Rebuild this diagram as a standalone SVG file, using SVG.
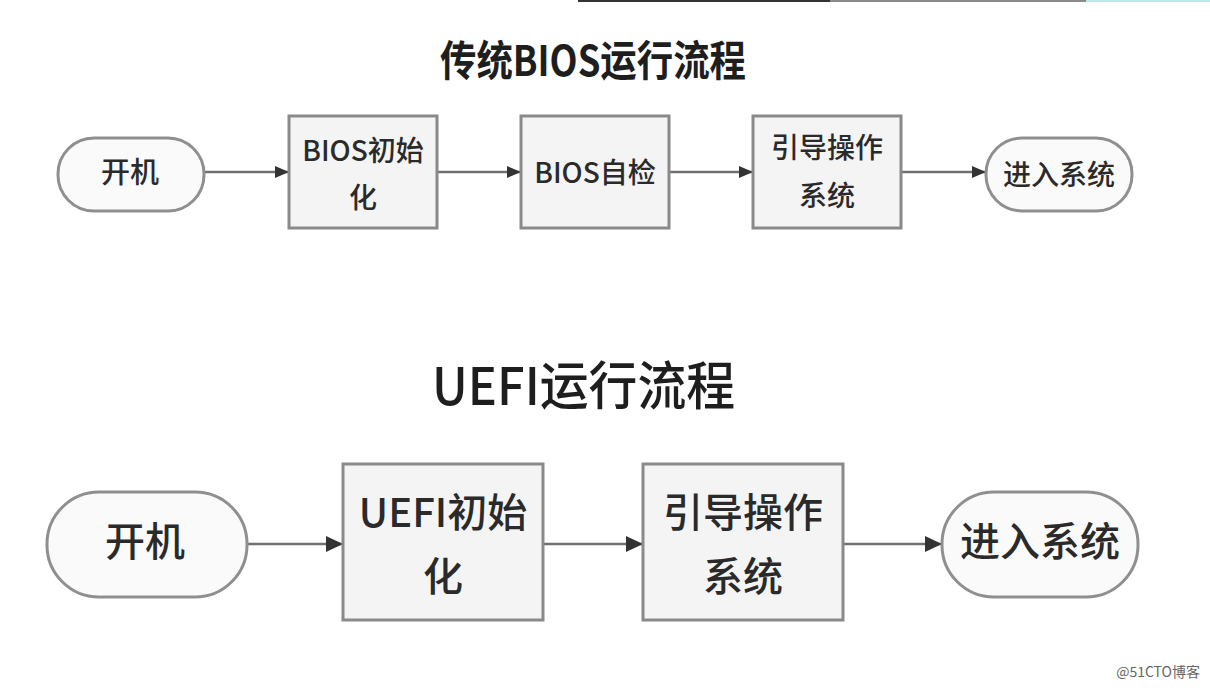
<svg xmlns="http://www.w3.org/2000/svg" width="1210" height="691" viewBox="0 0 1210 691">
<defs>
<style>
.t{font-family:"Noto Sans CJK SC","Noto Sans",sans-serif;fill:#2a2a2a;text-anchor:middle;font-weight:500}
.title{font-family:"Noto Sans CJK SC","Noto Sans",sans-serif;fill:#1e1e1e}
.box{fill:#f4f4f4;stroke:#8a8a8a;stroke-width:3}
.pill{fill:#fafafa;stroke:#8f8f8f;stroke-width:3}
.ln{stroke:#707070;stroke-width:2.5;fill:none}
</style>
<marker id="ah1" markerUnits="userSpaceOnUse" markerWidth="14" markerHeight="12" refX="14" refY="6" orient="auto">
<path d="M0,0 L14,6 L0,12 Z" fill="#333"/>
</marker>
<marker id="ah2" markerUnits="userSpaceOnUse" markerWidth="17" markerHeight="16" refX="17" refY="8" orient="auto">
<path d="M0,0 L17,8 L0,16 Z" fill="#333"/>
</marker>
</defs>
<rect width="1210" height="691" fill="#ffffff"/>
<rect x="578" y="0" width="252" height="2" fill="#333"/>
<rect x="830" y="0" width="256" height="2" fill="#8a8a8a"/>
<rect x="1086" y="0" width="124" height="2" fill="#bfe6ec"/>

<text class="title" x="440" y="76" font-size="42" font-weight="700" textLength="306" lengthAdjust="spacingAndGlyphs">传统BIOS运行流程</text>
<text class="title" x="432" y="405" font-size="52" font-weight="500" textLength="303" lengthAdjust="spacingAndGlyphs">UEFI运行流程</text>

<g id="connectors">
<line class="ln" x1="205" y1="172" x2="289" y2="172" marker-end="url(#ah1)"/>
<line class="ln" x1="437" y1="172" x2="521" y2="172" marker-end="url(#ah1)"/>
<line class="ln" x1="669" y1="172" x2="753" y2="172" marker-end="url(#ah1)"/>
<line class="ln" x1="901" y1="172" x2="986" y2="172" marker-end="url(#ah1)"/>
<line class="ln" x1="247" y1="544" x2="343" y2="544" marker-end="url(#ah2)"/>
<line class="ln" x1="543" y1="544" x2="643" y2="544" marker-end="url(#ah2)"/>
<line class="ln" x1="843" y1="544" x2="942" y2="544" marker-end="url(#ah2)"/>
</g>

<g id="bios-start">
<rect class="pill" x="58" y="138" width="146" height="73" rx="36" ry="36"/>
<text class="t" x="130" y="183" font-size="29">开机</text>
</g>
<g id="bios-init">
<rect class="box" x="289" y="116" width="148" height="112"/>
<text class="t" x="363" y="161" font-size="28">BIOS初始</text>
<text class="t" x="363" y="208" font-size="28">化</text>
</g>
<g id="bios-post">
<rect class="box" x="521" y="116" width="148" height="112"/>
<text class="t" x="595" y="183" font-size="28">BIOS自检</text>
</g>
<g id="bios-boot">
<rect class="box" x="753" y="116" width="148" height="112"/>
<text class="t" x="827" y="158" font-size="28">引导操作</text>
<text class="t" x="827" y="206" font-size="28">系统</text>
</g>
<g id="bios-enter">
<rect class="pill" x="986" y="138" width="146" height="73" rx="36" ry="36"/>
<text class="t" x="1059" y="185" font-size="28">进入系统</text>
</g>

<g id="uefi-start">
<rect class="pill" x="47" y="492" width="200" height="105" rx="52" ry="52"/>
<text class="t" x="145" y="556" font-size="40">开机</text>
</g>
<g id="uefi-init">
<rect class="box" x="343" y="464" width="200" height="156"/>
<text class="t" x="443" y="527" font-size="40">UEFI初始</text>
<text class="t" x="443" y="591" font-size="40">化</text>
</g>
<g id="uefi-boot">
<rect class="box" x="643" y="464" width="200" height="156"/>
<text class="t" x="743" y="527" font-size="40">引导操作</text>
<text class="t" x="743" y="591" font-size="40">系统</text>
</g>
<g id="uefi-enter">
<rect class="pill" x="942" y="492" width="196" height="105" rx="52" ry="52"/>
<text class="t" x="1040" y="556" font-size="40">进入系统</text>
</g>

<text x="1200" y="677" font-size="14" fill="#666" text-anchor="end" font-family="Noto Sans CJK SC, sans-serif">@51CTO博客</text>
</svg>
